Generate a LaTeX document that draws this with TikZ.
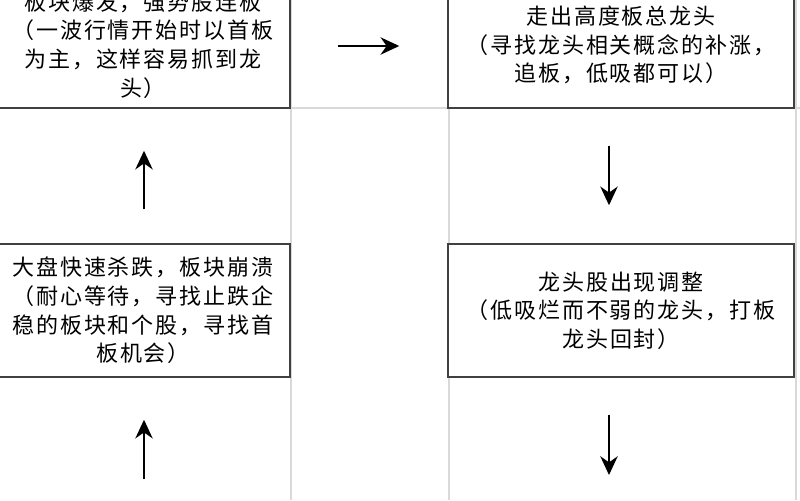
\documentclass[tikz,border=0pt]{standalone}
\usepackage{fontspec}
\newfontfamily\cjk{Noto Sans CJK SC}[LetterSpace=9]
\usetikzlibrary{arrows.meta}
\usetikzlibrary{calc}

\begin{document}
\begin{tikzpicture}[x=0.75pt,y=-0.75pt,
	cell/.style={draw=black!75,line width=1.1pt,fill=white,inner sep=0pt,align=center,font=\cjk\fontsize{16.5pt}{21.4pt}\selectfont},
	flow/.style={line width=1.7pt,-{Stealth[length=14pt,width=13pt,inset=4.5pt]}}]
	\useasboundingbox (0,0) rectangle (800,500);
	\clip (0,0) rectangle (800,500);
	\fill[white] (0,0) rectangle (800,500);
	\foreach \i in {291,449,796}
		\draw[black!15,line width=0.8pt] (\i,0) -- (\i,500);
	\draw[black!15,line width=0.8pt] (291,108) -- (800,108);
	\node[cell,minimum width=220.5pt,minimum height=94.5pt] (b1) at (143,45) {板块爆发，强势股连板\\（一波行情开始时以首板\\为主，这样容易抓到龙\\头）};
	\node[cell,minimum width=259.5pt,minimum height=94.5pt] (b2) at (621,45) {走出高度板总龙头\\（寻找龙头相关概念的补涨，\\追板，低吸都可以）};
	\node[cell,minimum width=259.5pt,minimum height=99.75pt] (b3) at (621,310.5) {龙头股出现调整\\（低吸烂而不弱的龙头，打板\\龙头回封）};
	\node[cell,minimum width=220.5pt,minimum height=99.75pt] (b4) at (143,310.5) {大盘快速杀跌，板块崩溃\\（耐心等待，寻找止跌企\\稳的板块和个股，寻找首\\板机会）};
	\coordinate (e1) at (144,479);
	\coordinate (e2) at (609,475);
	\draw[flow] ($(b1.east)+(47,1)$) -- ($(b2.west)+(-48,1)$);
	\draw[flow] ($(b2.south)+(-12,37)$) -- ($(b3.north)+(-12,-38)$);
	\draw[flow] ($(b3.south)+(-12,37)$) -- (e2);
	\draw[flow] ($(b4.north)+(1,-34)$) -- ($(b1.south)+(1,42)$);
	\draw[flow] (e1) -- ($(b4.south)+(1,42)$);
\end{tikzpicture}
\end{document}
